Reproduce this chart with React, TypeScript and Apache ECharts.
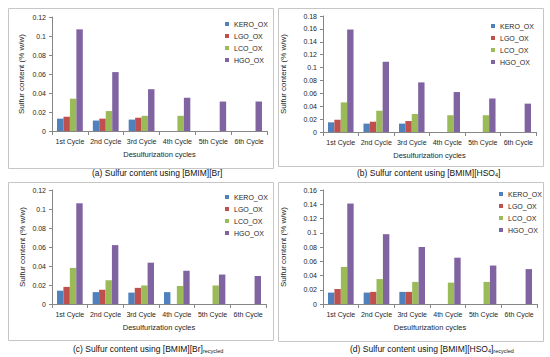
import React, { useEffect, useRef } from 'react';
import * as echarts from 'echarts';

const categories = ['1st Cycle', '2nd Cycle', '3rd Cycle', '4th Cycle', '5th Cycle', '6th Cycle'];
const seriesNames = ['KERO_OX', 'LGO_OX', 'LCO_OX', 'HGO_OX'];
const seriesColors = ['#4f81bd', '#c0504d', '#9bbb59', '#8064a2'];

// (a) [BMIM][Br]
const brKero = [0.013, 0.011, 0.012, null, null, null];
const brLgo = [0.015, 0.013, 0.014, null, null, null];
const brLco = [0.034, 0.021, 0.016, 0.016, null, null];
const brHgo = [0.107, 0.062, 0.044, 0.035, 0.031, 0.031];

// (b) [BMIM][HSO4]
const hsKero = [0.015, 0.013, 0.013, null, null, null];
const hsLgo = [0.019, 0.016, 0.017, null, null, null];
const hsLco = [0.046, 0.033, 0.028, 0.026, 0.026, null];
const hsHgo = [0.159, 0.109, 0.077, 0.062, 0.052, 0.044];

// (c) [BMIM][Br] recycled
const brRecKero = [0.014, 0.0125, 0.012, 0.0125, null, null];
const brRecLgo = [0.018, 0.015, 0.017, null, null, null];
const brRecLco = [0.038, 0.025, 0.0195, 0.019, 0.0195, null];
const brRecHgo = [0.106, 0.062, 0.0435, 0.035, 0.031, 0.0295];

// (d) [BMIM][HSO4] recycled
const hsRecKero = [0.016, 0.016, 0.017, null, null, null];
const hsRecLgo = [0.021, 0.017, 0.017, null, null, null];
const hsRecLco = [0.052, 0.035, 0.031, 0.030, 0.031, null];
const hsRecHgo = [0.141, 0.098, 0.080, 0.065, 0.054, 0.049];

const yMaxValues = [0.12, 0.18, 0.12, 0.16];
const yInterval = 0.02;
const yAxisName = 'Sulfur content (% w/w)';
const xAxisName = 'Desulfurization cycles';

// caption segments: [text, isSubscript]
const captionA: [string, boolean][] = [['(a) Sulfur content using [BMIM][Br]', false]];
const captionB: [string, boolean][] = [['(b) Sulfur content using [BMIM][HSO', false], ['4', true], [']', false]];
const captionC: [string, boolean][] = [['(c) Sulfur content using [BMIM][Br]', false], ['recycled', true]];
const captionD: [string, boolean][] = [['(d) Sulfur content using [BMIM][HSO', false], ['4', true], [']', false], ['recycled', true]];

const FONT = '"Liberation Sans", Arial, sans-serif';
const CAP_SIZE = 8.5;
const SUB_SIZE = 5.5;

const panels = [
  {
    data: [brKero, brLgo, brLco, brHgo],
    grid: { left: 52, top: 17, width: 215, height: 114 },
    yNameGap: 27,
    legend: { left: 225, top: 20 },
    box: { x: 8.5, y: 8.5, w: 265, h: 160 },
    caption: { x: 92, y: 173, segs: captionA },
  },
  {
    data: [hsKero, hsLgo, hsLco, hsHgo],
    grid: { left: 323, top: 16, width: 213, height: 116 },
    yNameGap: 36,
    legend: { left: 491, top: 22 },
    box: { x: 278.5, y: 8.5, w: 265, h: 158 },
    caption: { x: 357, y: 173, segs: captionB },
  },
  {
    data: [brRecKero, brRecLgo, brRecLco, brRecHgo],
    grid: { left: 52, top: 190, width: 214, height: 114 },
    yNameGap: 26,
    legend: { left: 225, top: 193 },
    box: { x: 8.5, y: 182.5, w: 265, h: 158 },
    caption: { x: 73, y: 349, segs: captionC },
  },
  {
    data: [hsRecKero, hsRecLgo, hsRecLco, hsRecHgo],
    grid: { left: 323, top: 190, width: 214, height: 114 },
    yNameGap: 36,
    legend: { left: 499, top: 190 },
    box: { x: 278.5, y: 182.5, w: 265, h: 159 },
    caption: { x: 350, y: 349, segs: captionD },
  },
];

const fmt = (v: number) => String(parseFloat(v.toFixed(2)));

export default function App() {
  const ref = useRef<HTMLDivElement>(null);
  useEffect(() => {
    if (!ref.current) return;
    const chart = echarts.init(ref.current, undefined, { renderer: 'svg' });
    const axisColor = '#868686';
    const textColor = '#262626';
    const ctx = document.createElement('canvas').getContext('2d')!;
    const measure = (t: string, size: number) => {
      ctx.font = `${size}px "Liberation Sans", Arial, sans-serif`;
      return ctx.measureText(t).width;
    };

    const grid = panels.map((p) => ({ ...p.grid, containLabel: false }));
    const xAxis = panels.map((p, i) => ({
      type: 'category',
      gridIndex: i,
      data: categories,
      boundaryGap: true,
      name: xAxisName,
      nameLocation: 'middle',
      nameGap: 19,
      nameTextStyle: { fontSize: 7.5, color: textColor, fontFamily: FONT },
      axisLine: { show: true, lineStyle: { color: axisColor, width: 1 } },
      axisTick: { show: true, length: 4, lineStyle: { color: axisColor } },
      axisLabel: { fontSize: 7, color: textColor, fontFamily: FONT, margin: 7, interval: 0 },
      splitLine: { show: false },
    }));
    const yAxis = panels.map((p, i) => ({
      type: 'value',
      gridIndex: i,
      min: 0,
      max: yMaxValues[i],
      interval: yInterval,
      name: yAxisName,
      nameLocation: 'middle',
      nameRotate: 90,
      nameGap: p.yNameGap,
      nameTextStyle: { fontSize: 8, color: textColor, fontFamily: FONT },
      axisLine: { show: true, lineStyle: { color: axisColor, width: 1 } },
      axisTick: { show: true, length: 3, lineStyle: { color: axisColor } },
      axisLabel: { fontSize: 7, color: textColor, fontFamily: FONT, margin: 6, formatter: fmt },
      splitLine: { show: false },
    }));
    const legend = panels.map((p) => ({
      orient: 'vertical',
      left: p.legend.left,
      top: p.legend.top,
      icon: 'rect',
      itemWidth: 4,
      itemHeight: 4,
      itemGap: 4,
      selectedMode: false,
      padding: 0,
      data: seriesNames,
      textStyle: { fontSize: 7, lineHeight: 8, color: textColor, fontFamily: FONT },
    }));
    const series: any[] = [];
    panels.forEach((p, pi) => {
      p.data.forEach((vals, si) => {
        series.push({
          type: 'bar',
          name: seriesNames[si],
          xAxisIndex: pi,
          yAxisIndex: pi,
          data: vals.map((v) => (v === null ? '-' : v)),
          itemStyle: { color: seriesColors[si] },
          barGap: '0%',
          barCategoryGap: '28%',
        });
      });
    });
    const graphic: any[] = [];
    panels.forEach((p) => {
      graphic.push({
        type: 'rect',
        shape: { x: p.box.x, y: p.box.y, width: p.box.w, height: p.box.h },
        style: { fill: 'none', stroke: '#c6c6c6', lineWidth: 1 },
        silent: true,
        z: -1,
      });
      let x = p.caption.x;
      p.caption.segs.forEach(([t, sub]) => {
        const size = sub ? SUB_SIZE : CAP_SIZE;
        graphic.push({
          type: 'text',
          x,
          y: p.caption.y + (sub ? 1.5 : 0),
          style: {
            text: t,
            fill: '#111',
            font: `${size}px "Liberation Sans", Arial, sans-serif`,
            verticalAlign: 'middle',
            align: 'left',
          },
          silent: true,
        });
        x += measure(t, size);
      });
    });

    chart.setOption({
      animation: false,
      backgroundColor: '#fff',
      grid,
      xAxis,
      yAxis,
      legend,
      series,
      graphic,
    } as any);
    return () => chart.dispose();
  }, []);
  return (
    <div style={{ position: 'fixed', left: 0, top: 0, width: 550, height: 357, background: '#fff' }}>
      <div ref={ref} style={{ width: 550, height: 357 }} />
    </div>
  );
}
